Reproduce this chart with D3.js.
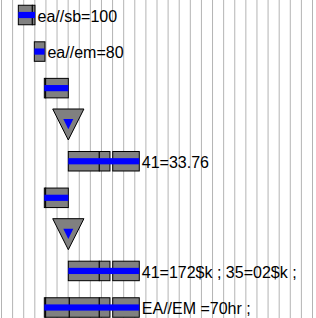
<!DOCTYPE html>
<html>
<head>
<meta charset="utf-8">
<script src="https://cdn.jsdelivr.net/npm/d3@7"></script>
<style>
  html, body { margin: 0; padding: 0; background: #fff; }
  svg { display: block; }
</style>
</head>
<body>
<svg id="chart" width="316" height="318"></svg>
<script>
// ---- data ----
const gridTicks = d3.range(0, 29);                 // vertical grid positions (units)
const rowIndex = d3.range(0, 9);                   // 9 rows
const rowLabels = ["ea//sb=100", "ea//em=80", "", "", "41=33.76", "", "", "41=172$k ; 35=02$k ;", "EA//EM =70hr ;"];

// grey boxes (segments)
const segRow   = [0,    0,    1,    2,    2,    4,    4,    4,     5,    5,    7,    7,    7,     8,    8,    8,    8,    8];
const segStart = [1.56, 2.82, 3.00, 3.90, 4.02, 6.06, 8.85, 10.06, 3.90, 4.02, 6.06, 8.85, 10.06, 3.90, 4.02, 6.15, 8.85, 10.06];
const segEnd   = [2.82, 3.06, 3.96, 4.02, 6.06, 8.85, 9.81, 12.45, 4.02, 6.06, 8.85, 9.81, 12.45, 4.02, 6.15, 8.85, 9.81, 12.45];

// blue bands
const bandRow   = [0,    1,    2,    4,    5,    7,    8];
const bandStart = [1.56, 3.00, 3.90, 6.06, 3.90, 6.06, 3.90];
const bandEnd   = [3.06, 3.92, 6.06, 12.45, 6.06, 12.45, 12.45];

// triangle markers
const triRow    = [3, 6];
const triCenter = [6.06, 6.06];

// label anchor (end of row extent)
const labelEnd = [3.06, 3.96, 0, 0, 12.45, 0, 0, 12.45, 12.45];

// ---- drawing ----
const W = 316, H = 318;
const svg = d3.select("#chart");
const x = d3.scaleLinear().domain([0, 28]).range([1, 312]);
const y = d3.scalePoint().domain(rowIndex).range([15, 307.5]);

// grid
const gridAxis = d3.axisBottom(x).tickValues(gridTicks).tickSize(-H).tickFormat("");
const g = svg.append("g").attr("transform", `translate(0,${H})`).call(gridAxis);
g.select(".domain").remove();
g.selectAll(".tick line").attr("stroke", "#b4b4b4").attr("stroke-width", 1);

const boxH = 19.5, bandH = 6.2;

// segments
svg.append("g").selectAll("rect").data(segRow.map((r, i) => ({r, s: segStart[i], e: segEnd[i]})))
  .join("rect")
  .attr("x", d => x(d.s))
  .attr("y", d => y(d.r) - boxH / 2)
  .attr("width", d => x(d.e) - x(d.s))
  .attr("height", boxH)
  .attr("fill", "#808080")
  .attr("stroke", "#000")
  .attr("stroke-width", 1);

// blue bands
svg.append("g").selectAll("rect").data(bandRow.map((r, i) => ({r, s: bandStart[i], e: bandEnd[i]})))
  .join("rect")
  .attr("x", d => x(d.s))
  .attr("y", d => y(d.r) - bandH / 2)
  .attr("width", d => x(d.e) - x(d.s))
  .attr("height", bandH)
  .attr("fill", "#0000ff");

// triangles
const tri = svg.append("g").selectAll("g").data(triRow.map((r, i) => ({r, c: triCenter[i]})))
  .join("g")
  .attr("transform", d => `translate(${x(d.c)},${y(d.r)})`);
tri.append("path")
  .attr("d", "M-15.6,-15.7 L15.6,-15.7 L0,15.3 Z")
  .attr("fill", "#808080").attr("stroke", "#000").attr("stroke-width", 1);
tri.append("path")
  .attr("d", "M-5,-5.7 L5,-5.7 L0,4.6 Z")
  .attr("fill", "#0000ff");

// labels
svg.append("g").selectAll("text").data(rowIndex.filter(i => rowLabels[i] !== ""))
  .join("text")
  .attr("x", i => x(labelEnd[i]) + 2.5)
  .attr("y", i => y(i) + 6.6)
  .attr("font-family", "'Liberation Sans', Arial, sans-serif")
  .attr("font-size", 16)
  .attr("fill", "#000")
  .text(i => rowLabels[i]);
</script>
</body>
</html>
